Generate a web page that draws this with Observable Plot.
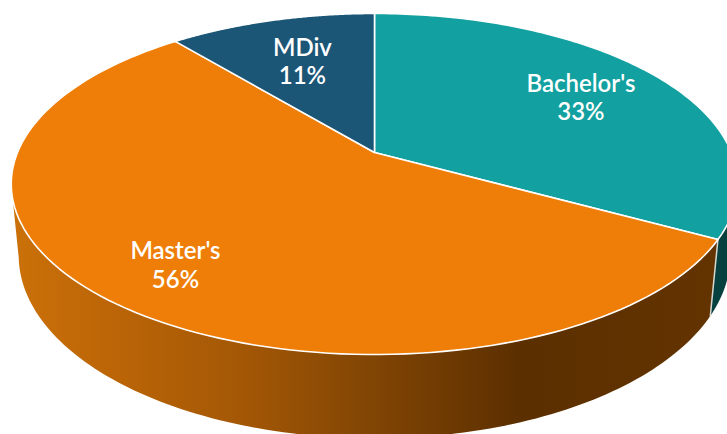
<!DOCTYPE html>
<html>
<head>
<meta charset="utf-8">
<script src="https://cdn.jsdelivr.net/npm/d3@7"></script>
<script src="https://cdn.jsdelivr.net/npm/@observablehq/plot@0.6"></script>
<style>
html,body{margin:0;padding:0;background:#fff}
svg{display:block}
</style>
</head>
<body>
<div id="chart"></div>
<script>
const categories = ["Bachelor's", "Master's", "MDiv"];
const shares = [33, 56, 11];
const topColors = ["#12A1A0", "#EE7E07", "#1B5677"];
const wallColors = ["#06403F", "url(#wallOrange)", "#123A50"];

const W = 727, H = 434;
// Perspective discs: top face and bottom rim of the cylinder.
const topDisc = {x0: 374, y0: 152, a: 164.7, b: 357, k: 0.1848};
const lowDisc = {x0: 374, y0: 222, a: 177, b: 350, k: 0.18};
const labelPull = [0.735, 0.75, 0.70];

const project = (d, deg, r = 1) => {
  const t = deg * Math.PI / 180, c = Math.sin(t) * r, s = Math.cos(t) * r;
  const w = 1 + d.k * s;
  return {x: d.x0 + d.b * c / w, y: d.y0 - d.a * s / w};
};
const arc = (d, from, to) => d3.range(0, 121).map(i => project(d, from + (to - from) * i / 120));

let acc = 0;
const slices = shares.map((v, i) => {
  const from = acc * 3.6; acc += v; const to = acc * 3.6;
  return {i, from, to, mid: (from + to) / 2};
});
const faces = slices.map(s => {
  const rim = arc(topDisc, s.from, s.to);
  const apex = {x: topDisc.x0, y: topDisc.y0};
  return [apex, ...rim, apex];
});
const wall = (from, to) => {
  const up = arc(topDisc, from, to), lo = arc(lowDisc, from, to).reverse();
  return [...up, ...lo, up[0]];
};
const edge = slices[0].to;
const tealWall = wall(95, edge);
const orangeWall = wall(edge, 259);
const seam = [project(topDisc, edge), project(lowDisc, edge)];

const textRows = slices.map(s => {
  const p = project(topDisc, s.mid);
  const r = labelPull[s.i];
  return {
    x: topDisc.x0 + (p.x - topDisc.x0) * r,
    y: topDisc.y0 + (p.y - topDisc.y0) * r,
    label: `${categories[s.i]}\n${shares[s.i]}%`
  };
});

const gradientStops = [
  [0, "#CB7109"], [0.13, "#BD6607"], [0.33, "#A35705"], [0.5, "#834604"],
  [0.72, "#5C2F00"], [1, "#633400"]
];
const defsMark = () => {
  const defs = d3.create("svg:defs");
  const g = defs.append("linearGradient").attr("id", "wallOrange")
    .attr("x1", 0).attr("x2", 1).attr("y1", 0).attr("y2", 0);
  gradientStops.forEach(([o, c]) => g.append("stop").attr("offset", o).attr("stop-color", c));
  return defs.node();
};

const chart = Plot.plot({
  width: W, height: H,
  margin: 0,
  x: {domain: [0, W], range: [0, W], axis: null},
  y: {domain: [H, 0], range: [H, 0], axis: null},
  style: {background: "#fff"},
  marks: [
    defsMark,
    Plot.line(tealWall, {x: "x", y: "y", fill: wallColors[0], stroke: "none"}),
    Plot.line(orangeWall, {x: "x", y: "y", fill: wallColors[1], stroke: "none"}),
    Plot.line(seam, {x: "x", y: "y", stroke: "#d8d8d0", strokeWidth: 1.5}),
    ...faces.map((f, i) => Plot.line(f, {x: "x", y: "y", fill: topColors[i], stroke: "#fff", strokeWidth: 1.6})),
    Plot.text(textRows, {
      x: "x", y: "y", dy: 1, text: "label", fill: "#fff",
      fontFamily: "Lato", fontSize: 24, fontWeight: 600, lineHeight: 1.17,
      textAnchor: "middle", lineAnchor: "middle"
    })
  ]
});
document.getElementById("chart").appendChild(chart);
</script>
</body>
</html>
